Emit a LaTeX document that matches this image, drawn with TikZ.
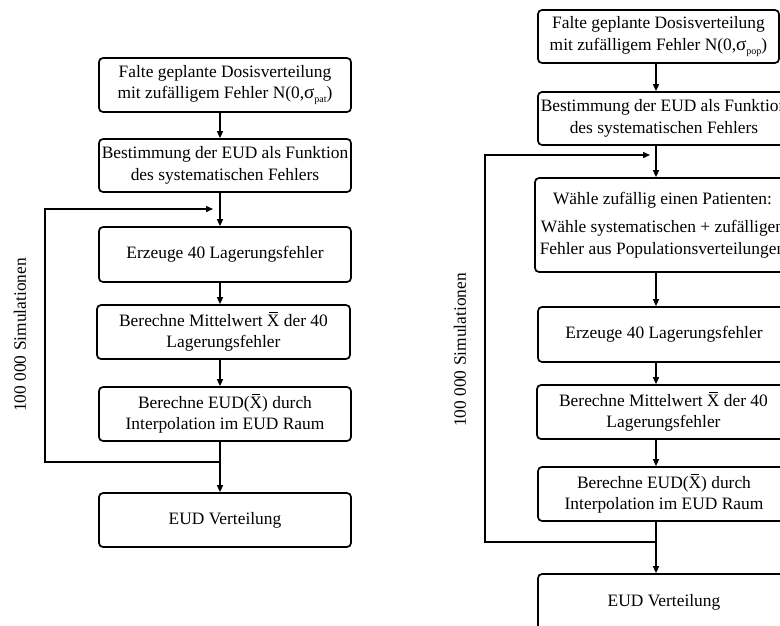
\documentclass[tikz,border=0pt]{standalone}
\usepackage{fontspec}
\setmainfont{Liberation Serif}
\usetikzlibrary{arrows.meta,calc}
\newcommand{\xbar}{\makebox[0pt][l]{\raisebox{0.76em}{\kern0.11em\rule{0.5em}{0.05em}}}X}
\newcommand{\sig}[1]{{\fontsize{19}{19}\selectfont σ}\raisebox{-0.45ex}{\fontsize{10}{10}\selectfont #1}}
\begin{document}
\begin{tikzpicture}[x=1pt,y=-1pt,
  box/.style={draw, line width=1.7pt, rounded corners=4pt, align=center, inner sep=0pt, font=\fontsize{17.4}{21.5}\selectfont},
  conn/.style={line width=1.4pt, -{Triangle[length=7pt,width=6pt]}},
  lab/.style={rotate=90, font=\fontsize{17.4}{20}\selectfont}]
\useasboundingbox (0,0) rectangle (780,625);
\clip (0,0) rectangle (780,625);
% left diagram
\coordinate (ax) at (220,0);
\node[box, minimum width=252pt, minimum height=54pt] (L1) at (225,85) {Falte geplante Dosisverteilung\\mit zufälligem Fehler N(0,\sig{pat})};
\node[box, minimum width=252pt, minimum height=53pt] (L2) at (225,165.5) {Bestimmung der EUD als Funktion\\des systematischen Fehlers};
\node[box, minimum width=252pt, minimum height=55pt] (L3) at (225,254.5) {Erzeuge 40 Lagerungsfehler};
\node[box, minimum width=253pt, minimum height=54pt] (L4) at (223.5,332) {Berechne Mittelwert \xbar{} der 40\\Lagerungsfehler};
\node[box, minimum width=252pt, minimum height=54pt] (L5) at (225,414) {Berechne EUD(\xbar) durch\\Interpolation im EUD Raum};
\node[box, minimum width=252pt, minimum height=54pt] (L6) at (225,520) {EUD Verteilung};
\draw[conn] (L1.south -| ax) -- (L2.north -| ax);
\draw[conn] (L2.south -| ax) -- (L3.north -| ax);
\draw[conn] (L3.south -| ax) -- (L4.north -| ax);
\draw[conn] (L4.south -| ax) -- (L5.north -| ax);
\draw[conn] (L5.south -| ax) -- (L6.north -| ax);
\coordinate (lfa) at (220,462);
\coordinate (lfb) at (45,462);
\coordinate (lfc) at (45,209);
\coordinate (lfd) at (213,209);
\draw[conn] (lfa) -- (lfb) -- (lfc) -- (lfd);
\node[lab] (LS) at (20,335) {100 000 Simulationen};
% right diagram
\coordinate (bx) at (656,0);
\node[box, minimum width=241pt, minimum height=53pt] (R1) at (658.5,36.5) {Falte geplante Dosisverteilung\\mit zufälligem Fehler N(0,\sig{pop})};
\node[box, minimum width=252pt, minimum height=53pt] (R2) at (664,118.5) {Bestimmung der EUD als Funktion\\des systematischen Fehlers};
\node[box, minimum width=255pt, minimum height=94pt] (R3) at (662.5,225) {Wähle zufällig einen Patienten:\\[7pt]Wähle systematischen + zufälligen\\Fehler aus Populationsverteilungen};
\node[box, minimum width=252pt, minimum height=55pt] (R4) at (664,334.5) {Erzeuge 40 Lagerungsfehler};
\node[box, minimum width=253pt, minimum height=54pt] (R5) at (663.5,412) {Berechne Mittelwert \xbar{} der 40\\Lagerungsfehler};
\node[box, minimum width=252pt, minimum height=54pt] (R6) at (664,494) {Berechne EUD(\xbar) durch\\Interpolation im EUD Raum};
\node[box, minimum width=252pt, minimum height=56pt] (R7) at (664,602) {EUD Verteilung};
\draw[conn] (R1.south -| bx) -- (R2.north -| bx);
\draw[conn] (R2.south -| bx) -- (R3.north -| bx);
\draw[conn] (R3.south -| bx) -- (R4.north -| bx);
\draw[conn] (R4.south -| bx) -- (R5.north -| bx);
\draw[conn] (R5.south -| bx) -- (R6.north -| bx);
\draw[conn] (R6.south -| bx) -- (R7.north -| bx);
\coordinate (rfa) at (656,542);
\coordinate (rfb) at (485,542);
\coordinate (rfc) at (485,155);
\coordinate (rfd) at (650,155);
\draw[conn] (rfa) -- (rfb) -- (rfc) -- (rfd);
\node[lab] (RS) at (460,350) {100 000 Simulationen};
\end{tikzpicture}
\end{document}
